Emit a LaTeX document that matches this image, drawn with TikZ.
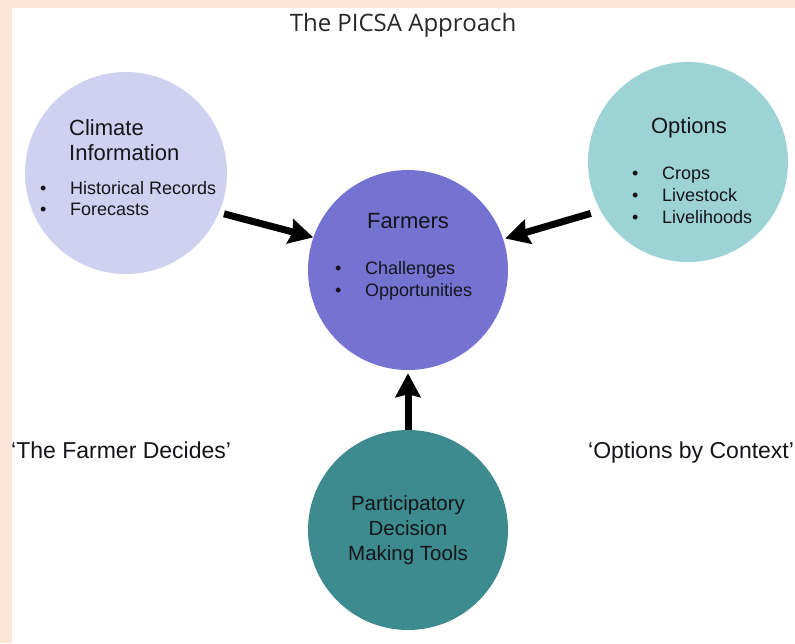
\documentclass[tikz,border=0pt]{standalone}
\usepackage{fontspec}
\setmainfont{Liberation Sans}
\newfontfamily\titlefont{Open Sans}
\usepackage{tikz}
\usetikzlibrary{arrows.meta}
\usepackage{xcolor}
\definecolor{picsapeach}{RGB}{252,229,214}
\definecolor{climfill}{RGB}{208,208,240}
\definecolor{optfill}{RGB}{158,211,214}
\definecolor{farmfill}{RGB}{117,115,210}
\definecolor{toolfill}{RGB}{62,139,143}
\definecolor{titlegrey}{RGB}{40,40,40}
\definecolor{picsatext}{RGB}{20,20,25}
\newcommand{\bul}{\makebox[30pt][l]{\textbullet}}

\begin{document}
\begin{tikzpicture}[x=1pt,y=-1pt,
    bubble/.style={circle, inner sep=0pt, minimum size=200pt},
    head/.style={inner sep=0pt, text=picsatext, font=\fontsize{22}{25}\selectfont},
    item/.style={inner sep=0pt, anchor=base west, text=picsatext, font=\fontsize{18}{22}\selectfont},
    bigarrow/.style={line width=7pt, -{Stealth[length=24pt,width=25pt,inset=3pt]}}]
% page
\useasboundingbox (0,0) rectangle (795,643);
\fill[picsapeach] (0,0) rectangle (795,643);
\fill[white] (12,8) rectangle (795,643);
\node[anchor=base, inner sep=0pt, text=titlegrey, font=\titlefont\fontsize{24}{28}\selectfont] (title) at (403,31.5) {The PICSA Approach};
% Climate Information
\node[bubble, minimum size=202pt, fill=climfill] (climate) at (126,173) {};
\node[head, anchor=base west] (climhead1) at (69,135) {Climate};
\node[head, anchor=base west] (climhead2) at (69,160) {Information};
\node[item] (climA) at (40,194.5) {\bul Historical Records};
\node[item] (climB) at (40,215.5) {\bul Forecasts};
% Options
\node[bubble, fill=optfill] (options) at (688,162) {};
\node[head, anchor=base] (opthead) at (689,133) {Options};
\node[item] (optA) at (632,179.5) {\bul Crops};
\node[item] (optB) at (632,201.5) {\bul Livestock};
\node[item] (optC) at (632,223.5) {\bul Livelihoods};
% Farmers
\node[bubble, fill=farmfill] (farmers) at (408,270) {};
\node[head, anchor=base] (farmhead) at (408,228) {Farmers};
\node[item] (farmA) at (335,274.5) {\bul Challenges};
\node[item] (farmB) at (335,296.5) {\bul Opportunities};
% Participatory Decision Making Tools
\node[bubble, fill=toolfill] (tools) at (408,530) {};
\node[head, anchor=base, font=\fontsize{20.5}{25}\selectfont] (toolA) at (408,510.5) {Participatory};
\node[head, anchor=base, font=\fontsize{20.5}{25}\selectfont] (toolB) at (408,535.5) {Decision};
\node[head, anchor=base, font=\fontsize{20.5}{25}\selectfont] (toolC) at (408,560.5) {Making Tools};
% side labels
\node[head, anchor=base west, font=\fontsize{23}{26}\selectfont] (decides) at (11,458) {‘The Farmer Decides’};
\node[head, anchor=base west, font=\fontsize{23}{26}\selectfont] (context) at (588,458) {‘Options by Context’};
% arrows
\draw[bigarrow, shorten <=5pt] (climate.-23.4) -- (farmers.161.6);
\draw[bigarrow, shorten <=10pt, shorten >=2pt] (options.-151.1) -- (farmers.18.8);
\draw[bigarrow, shorten >=3pt] (tools.north) -- (farmers.south);
\end{tikzpicture}
\end{document}
